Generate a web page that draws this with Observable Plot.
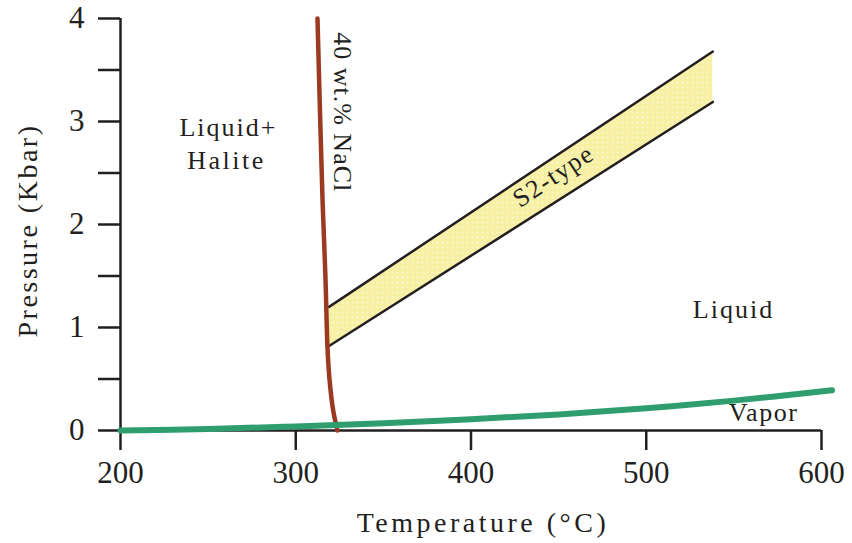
<!DOCTYPE html>
<html>
<head>
<meta charset="utf-8">
<script src="https://cdn.jsdelivr.net/npm/d3@7"></script>
<script src="https://cdn.jsdelivr.net/npm/@observablehq/plot@0.6"></script>
<style>
  html, body { margin: 0; padding: 0; background: #fff; }
  #chart { width: 852px; height: 543px; }
</style>
</head>
<body>
<div id="chart"></div>
<script>
// Vapor (L-V) curve: temperature (°C), pressure (kbar)
const vaporT = [200, 250, 300, 350, 400, 450, 500, 550, 606];
const vaporP = [0.00, 0.015, 0.04, 0.07, 0.11, 0.155, 0.215, 0.29, 0.39];

// 40 wt.% NaCl halite-saturation curve
const naclT = [312.4, 315.3, 317.0, 318.1, 319.3, 321.3, 323.8];
const naclP = [4.00, 2.23, 1.46, 0.81, 0.49, 0.20, 0.00];

// S2-type band
const bandT = [319, 538];
const bandLow = [0.82, 3.19];
const bandHigh = [1.20, 3.68];

// Axis ticks
const xTicks = [200, 300, 400, 500, 600];
const yTicks = [0, 0.5, 1, 1.5, 2, 2.5, 3, 3.5, 4];

// Annotations
const labels = [
  {text: "Liquid+", T: 261.6, P: 2.94, rotate: 0},
  {text: "Halite", T: 260.5, P: 2.62, rotate: 0},
  {text: "40 wt.% NaCl", T: 326.7, P: 3.09, rotate: 90},
  {text: "S2-type", T: 447, P: 2.47, rotate: -33.7},
  {text: "Liquid", T: 549.8, P: 1.17, rotate: 0},
  {text: "Vapor", T: 566.9, P: 0.17, rotate: 0}
];

const vapor = vaporT.map((t, i) => ({T: t, P: vaporP[i]}));
const nacl = naclT.map((t, i) => ({T: t, P: naclP[i]}));
const band = bandT.map((t, i) => ({T: t, lo: bandLow[i], hi: bandHigh[i]}));

const font = "'Liberation Serif', 'DejaVu Serif', serif";
const ink = "#231f20";

const plot = Plot.plot({
  width: 852,
  height: 543,
  marginLeft: 120,
  marginRight: 31,
  marginTop: 18,
  marginBottom: 113,
  style: {fontFamily: font, color: ink, background: "#fff"},
  x: {domain: [200, 600]},
  y: {domain: [0, 4]},
  marks: [
    Plot.areaY(band, {x: "T", y1: "lo", y2: "hi", fill: "#f8f2a8", className: "band"}),
    Plot.line(band, {x: "T", y: "hi", stroke: ink, strokeWidth: 2.5}),
    Plot.line(band, {x: "T", y: "lo", stroke: ink, strokeWidth: 2.5}),
    Plot.ruleX([200], {stroke: ink, strokeWidth: 2.5}),
    Plot.ruleY([0], {stroke: ink, strokeWidth: 2.5}),
    Plot.axisY({ticks: yTicks, tickSize: 22, tickPadding: 14, strokeWidth: 2.5, stroke: ink,
      tickFormat: d => Number.isInteger(d) ? String(d) : "", fontSize: 31, label: null}),
    Plot.axisX({ticks: xTicks, tickSize: 20, tickPadding: 10, strokeWidth: 2.5, stroke: ink,
      tickFormat: d => String(d), fontSize: 31, label: null}),
    Plot.line(nacl, {x: "T", y: "P", stroke: "#9b3a20", strokeWidth: 4.5, curve: "catmull-rom"}),
    Plot.line(vapor, {x: "T", y: "P", stroke: "#2f9e6f", strokeWidth: 6, curve: "catmull-rom"}),
    Plot.text(labels, {x: "T", y: "P", text: "text", rotate: "rotate", fontSize: 26, fill: ink, textAnchor: "middle", lineAnchor: "middle"}),
    Plot.text(["Temperature (°C)"], {frameAnchor: "bottom", dx: 12, dy: 93, fontSize: 28, fill: ink, textAnchor: "middle", lineAnchor: "middle"}),
    Plot.text(["Pressure (Kbar)"], {frameAnchor: "left", dx: -92, dy: 6, rotate: -90, fontSize: 28, fill: ink, textAnchor: "middle", lineAnchor: "middle"})
  ]
});

const spacing = {
  "Temperature (°C)": 3.5, "Pressure (Kbar)": 2.5, "Liquid+": 2, "Halite": 2.5,
  "Liquid": 2, "Vapor": 1.5, "40 wt.% NaCl": 1, "S2-type": 1.5
};
plot.querySelectorAll("text").forEach(t => {
  const s = spacing[t.textContent];
  if (s) t.setAttribute("letter-spacing", s);
});

// subtle dotted texture for the S2-type band, like the reference
const ns = "http://www.w3.org/2000/svg";
let defs = plot.querySelector("defs");
if (!defs) { defs = document.createElementNS(ns, "defs"); plot.insertBefore(defs, plot.firstChild); }
const pat = document.createElementNS(ns, "pattern");
pat.setAttribute("id", "s2dots");
pat.setAttribute("width", "5");
pat.setAttribute("height", "5");
pat.setAttribute("patternUnits", "userSpaceOnUse");
pat.innerHTML = '<rect width="5" height="5" fill="#f7f0a2"/><circle cx="2.5" cy="2.5" r="1" fill="#fbf8d8"/>';
defs.appendChild(pat);
plot.querySelectorAll("g[aria-label='area'] path, .band path").forEach(p => p.setAttribute("fill", "url(#s2dots)"));

document.getElementById("chart").appendChild(plot);
</script>
</body>
</html>
